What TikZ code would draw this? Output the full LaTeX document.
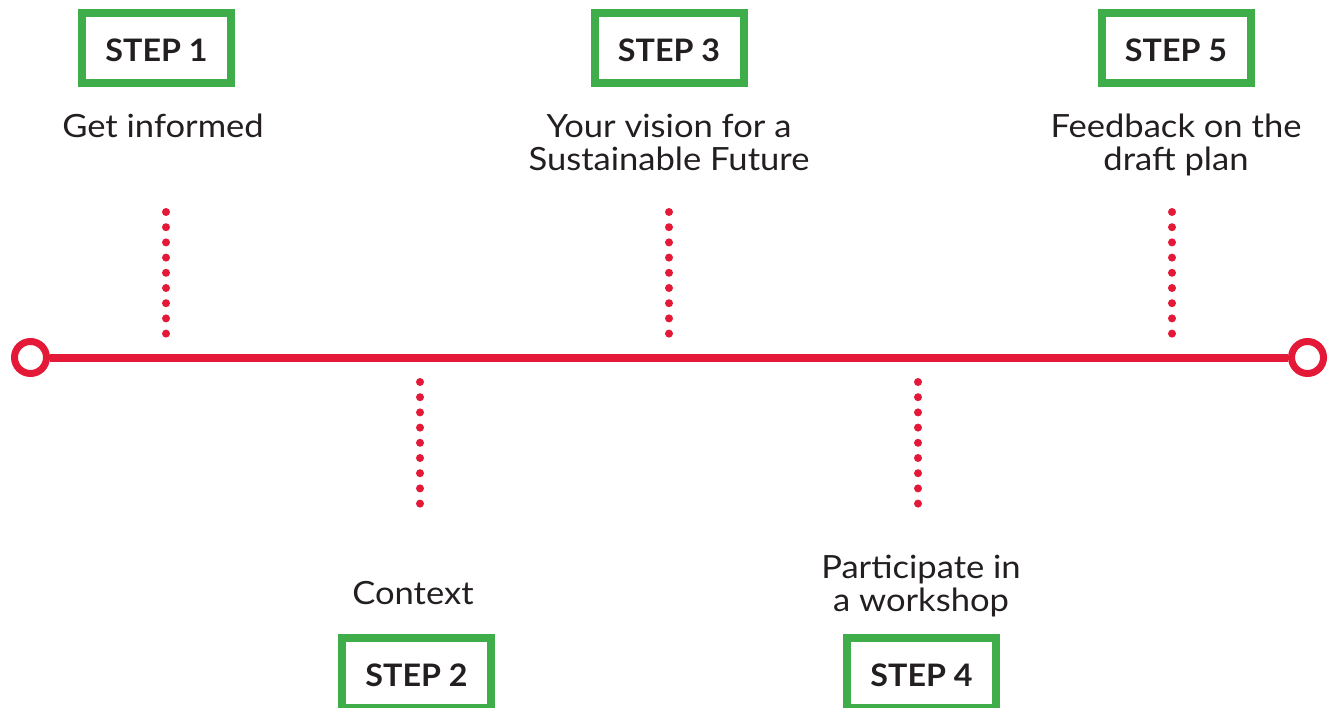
\documentclass[tikz,border=0pt]{standalone}
\usepackage{fontspec}
\setmainfont{Lato}
\newfontfamily\widelato[FakeStretch=1.08]{Lato}
\newfontfamily\widelatobold[FakeStretch=1.04]{Lato Bold}
\definecolor{tlred}{HTML}{E31937}
\definecolor{stepgreen}{HTML}{3FAE4A}
\definecolor{ink}{HTML}{231F20}
\begin{document}
\begin{tikzpicture}[x=1pt,y=-1pt,
  stepbox/.style={draw=stepgreen, line width=8pt, minimum width=149pt, minimum height=70pt, inner sep=0pt,
    text height=26pt, text depth=0pt,
    text=ink, font=\widelatobold\fontsize{31}{33}\selectfont},
  label/.style={align=center, text=ink, inner sep=0pt, anchor=base, font=\widelato\fontsize{32}{33}\selectfont},
  endring/.style={circle, draw=tlred, line width=7pt, minimum size=32pt, inner sep=0pt, fill=white},
  dotline/.style={draw=tlred, line width=8pt, line cap=round, dash pattern=on 0pt off 15.2pt}]
\useasboundingbox (0,0) rectangle (1329,708);
% timeline
\node[endring] (L) at (30.5,357.5) {};
\node[endring] (R) at (1307.5,357.5) {};
\draw[tlred, line width=8pt] (L) -- (R);
% step boxes
\node[stepbox] (s1) at (156.5,48.5) {STEP 1};
\node[stepbox] (s3) at (669,48.5) {STEP 3};
\node[stepbox] (s5) at (1176,48.5) {STEP 5};
\node[stepbox] (s2) at (416.5,673) {STEP 2};
\node[stepbox] (s4) at (921.5,673) {STEP 4};
% labels (base anchor = baseline of last line)
\node[label] (t1) at (163,138) {Get informed};
\node[label] (t3) at (669,171) {Your vision for a\\Sustainable Future};
\node[label] (t5) at (1176,171) {Feedback on the\\draft plan};
\node[label] (t2) at (413,604) {Context};
\node[label] (t4) at (921,611) {Participate in\\a workshop};
% dotted connectors
\coordinate (d1a) at (166,212); \coordinate (d1b) at (166,334);
\coordinate (d3a) at (669,212); \coordinate (d3b) at (669,334);
\coordinate (d5a) at (1172,212); \coordinate (d5b) at (1172,334);
\coordinate (d2a) at (420,382); \coordinate (d2b) at (420,504);
\coordinate (d4a) at (918,382); \coordinate (d4b) at (918,504);
\draw[dotline] (d1a) -- (d1b);
\draw[dotline] (d3a) -- (d3b);
\draw[dotline] (d5a) -- (d5b);
\draw[dotline] (d2a) -- (d2b);
\draw[dotline] (d4a) -- (d4b);
\end{tikzpicture}
\end{document}
